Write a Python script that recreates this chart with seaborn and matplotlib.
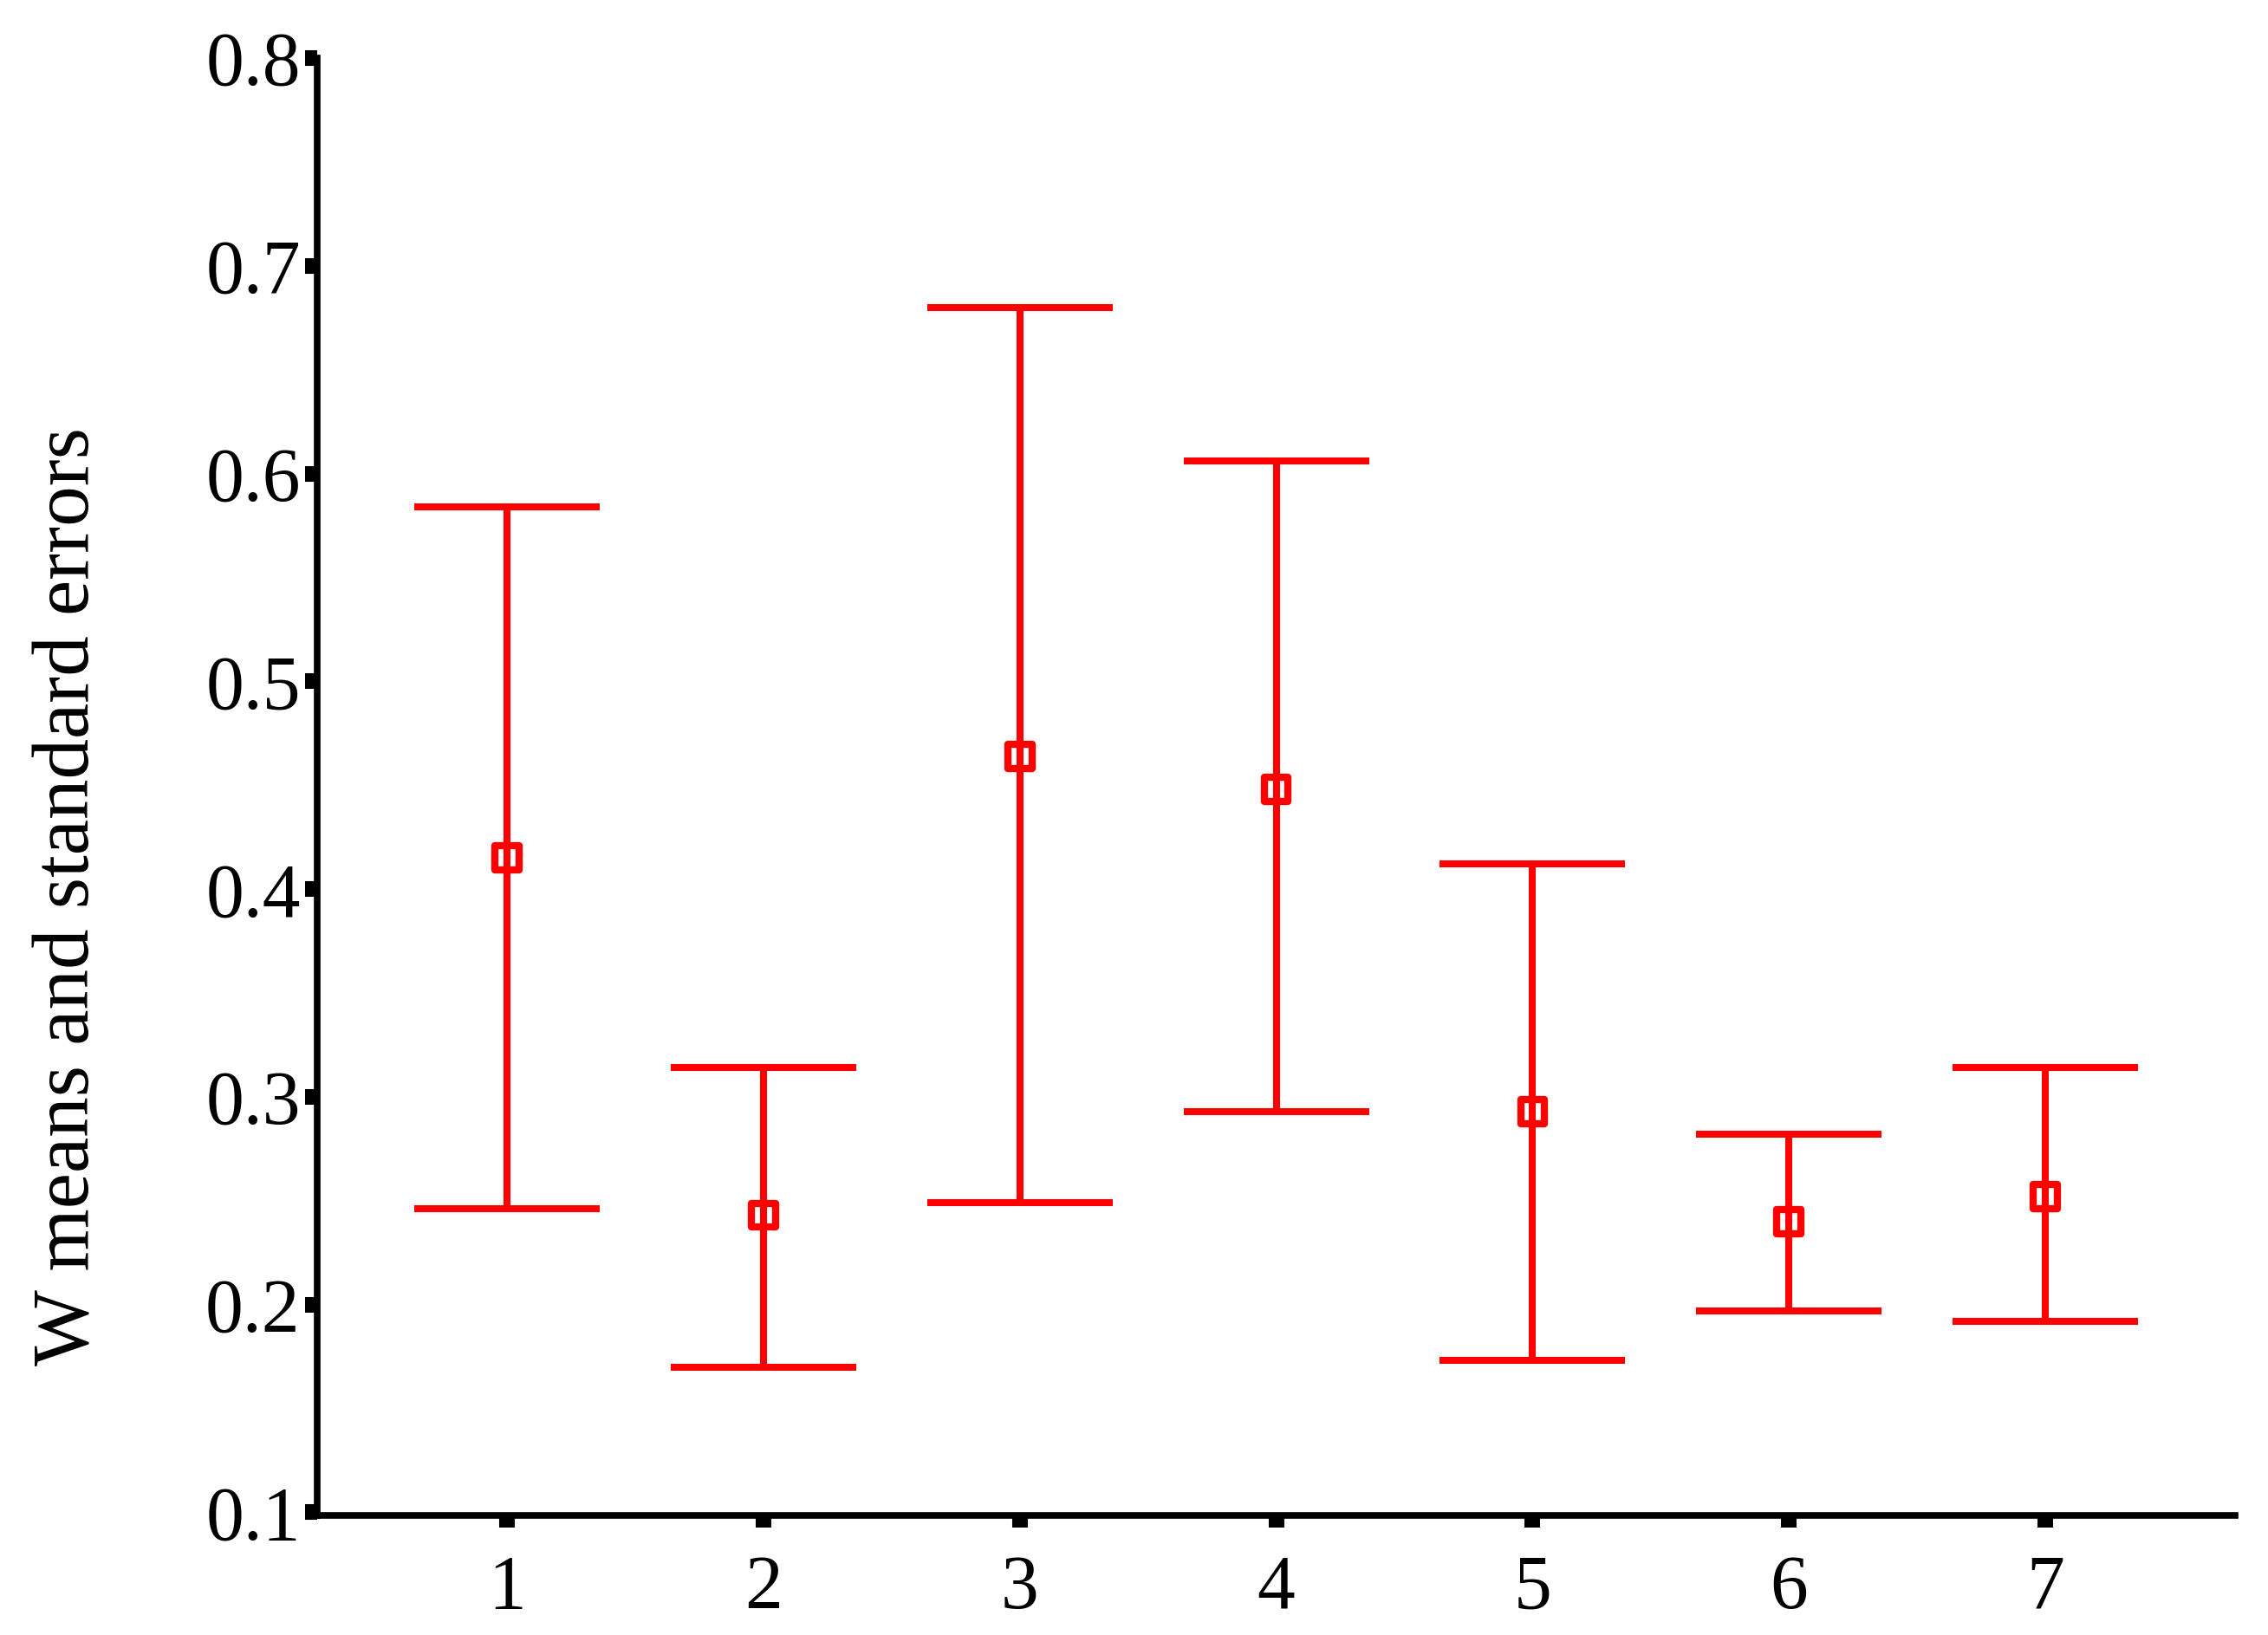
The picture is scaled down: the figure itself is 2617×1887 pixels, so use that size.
import numpy as np
import pandas as pd
import seaborn as sns
import matplotlib
matplotlib.use("Agg")
import matplotlib.pyplot as plt

# valores
grupos = [1, 2, 3, 4, 5, 6, 7]
medias = [0.415, 0.243, 0.464, 0.448, 0.293, 0.240, 0.252]
superior = [0.584, 0.314, 0.680, 0.606, 0.412, 0.282, 0.314]
inferior = [0.246, 0.170, 0.249, 0.293, 0.173, 0.197, 0.192]
y_ticks = [0.1, 0.2, 0.3, 0.4, 0.5, 0.6, 0.7, 0.8]

df = pd.DataFrame({"grupo": grupos, "media": medias,
                   "sup": superior, "inf": inferior})

sns.set_style("ticks")
plt.rcParams["font.family"] = ["Liberation Serif", "DejaVu Serif"]
plt.rcParams["text.color"] = "black"
plt.rcParams["axes.labelcolor"] = "black"
plt.rcParams["xtick.labelcolor"] = "black"
plt.rcParams["ytick.labelcolor"] = "black"

fig = plt.figure(figsize=(26.17, 18.87), dpi=100)
ax = fig.add_axes([0.1399, 0.0731, 0.8456, 0.8914])

rojo = "#ff0000"

# barras de error (asimetricas)
err = [df["media"] - df["inf"], df["sup"] - df["media"]]
ax.errorbar(df["grupo"], df["media"], yerr=err, fmt="none",
            ecolor=rojo, elinewidth=5.8, capsize=77, capthick=5.8, zorder=2)

# medias
sns.scatterplot(data=df, x="grupo", y="media", ax=ax, marker="s",
                s=20 ** 2, facecolors="none", edgecolor=rojo,
                linewidth=6.0, zorder=3, legend=False)

ax.set_xlim(0.26, 7.74)
ax.set_ylim(0.0985, 0.8)
ax.set_xticks(grupos)
ax.set_xticklabels([str(g) for g in grupos])
ax.set_yticks(y_ticks)
ax.set_yticklabels([f"{v:.1f}" for v in y_ticks])

sns.despine(ax=ax)
for s in ["left", "bottom"]:
    ax.spines[s].set_linewidth(5.5)
    ax.spines[s].set_color("black")

ax.tick_params(axis="both", direction="out", length=10, width=13,
               color="black", labelcolor="black", labelsize=63)
ax.tick_params(axis="x", pad=22)
ax.tick_params(axis="y", pad=4)

ax.set_xlabel("")
ax.set_ylabel("W means and standard errors", fontsize=67, color="black")
ax.yaxis.set_label_coords(-0.110, 0.4246)

fig.savefig("out.png", dpi=100, facecolor="white")
